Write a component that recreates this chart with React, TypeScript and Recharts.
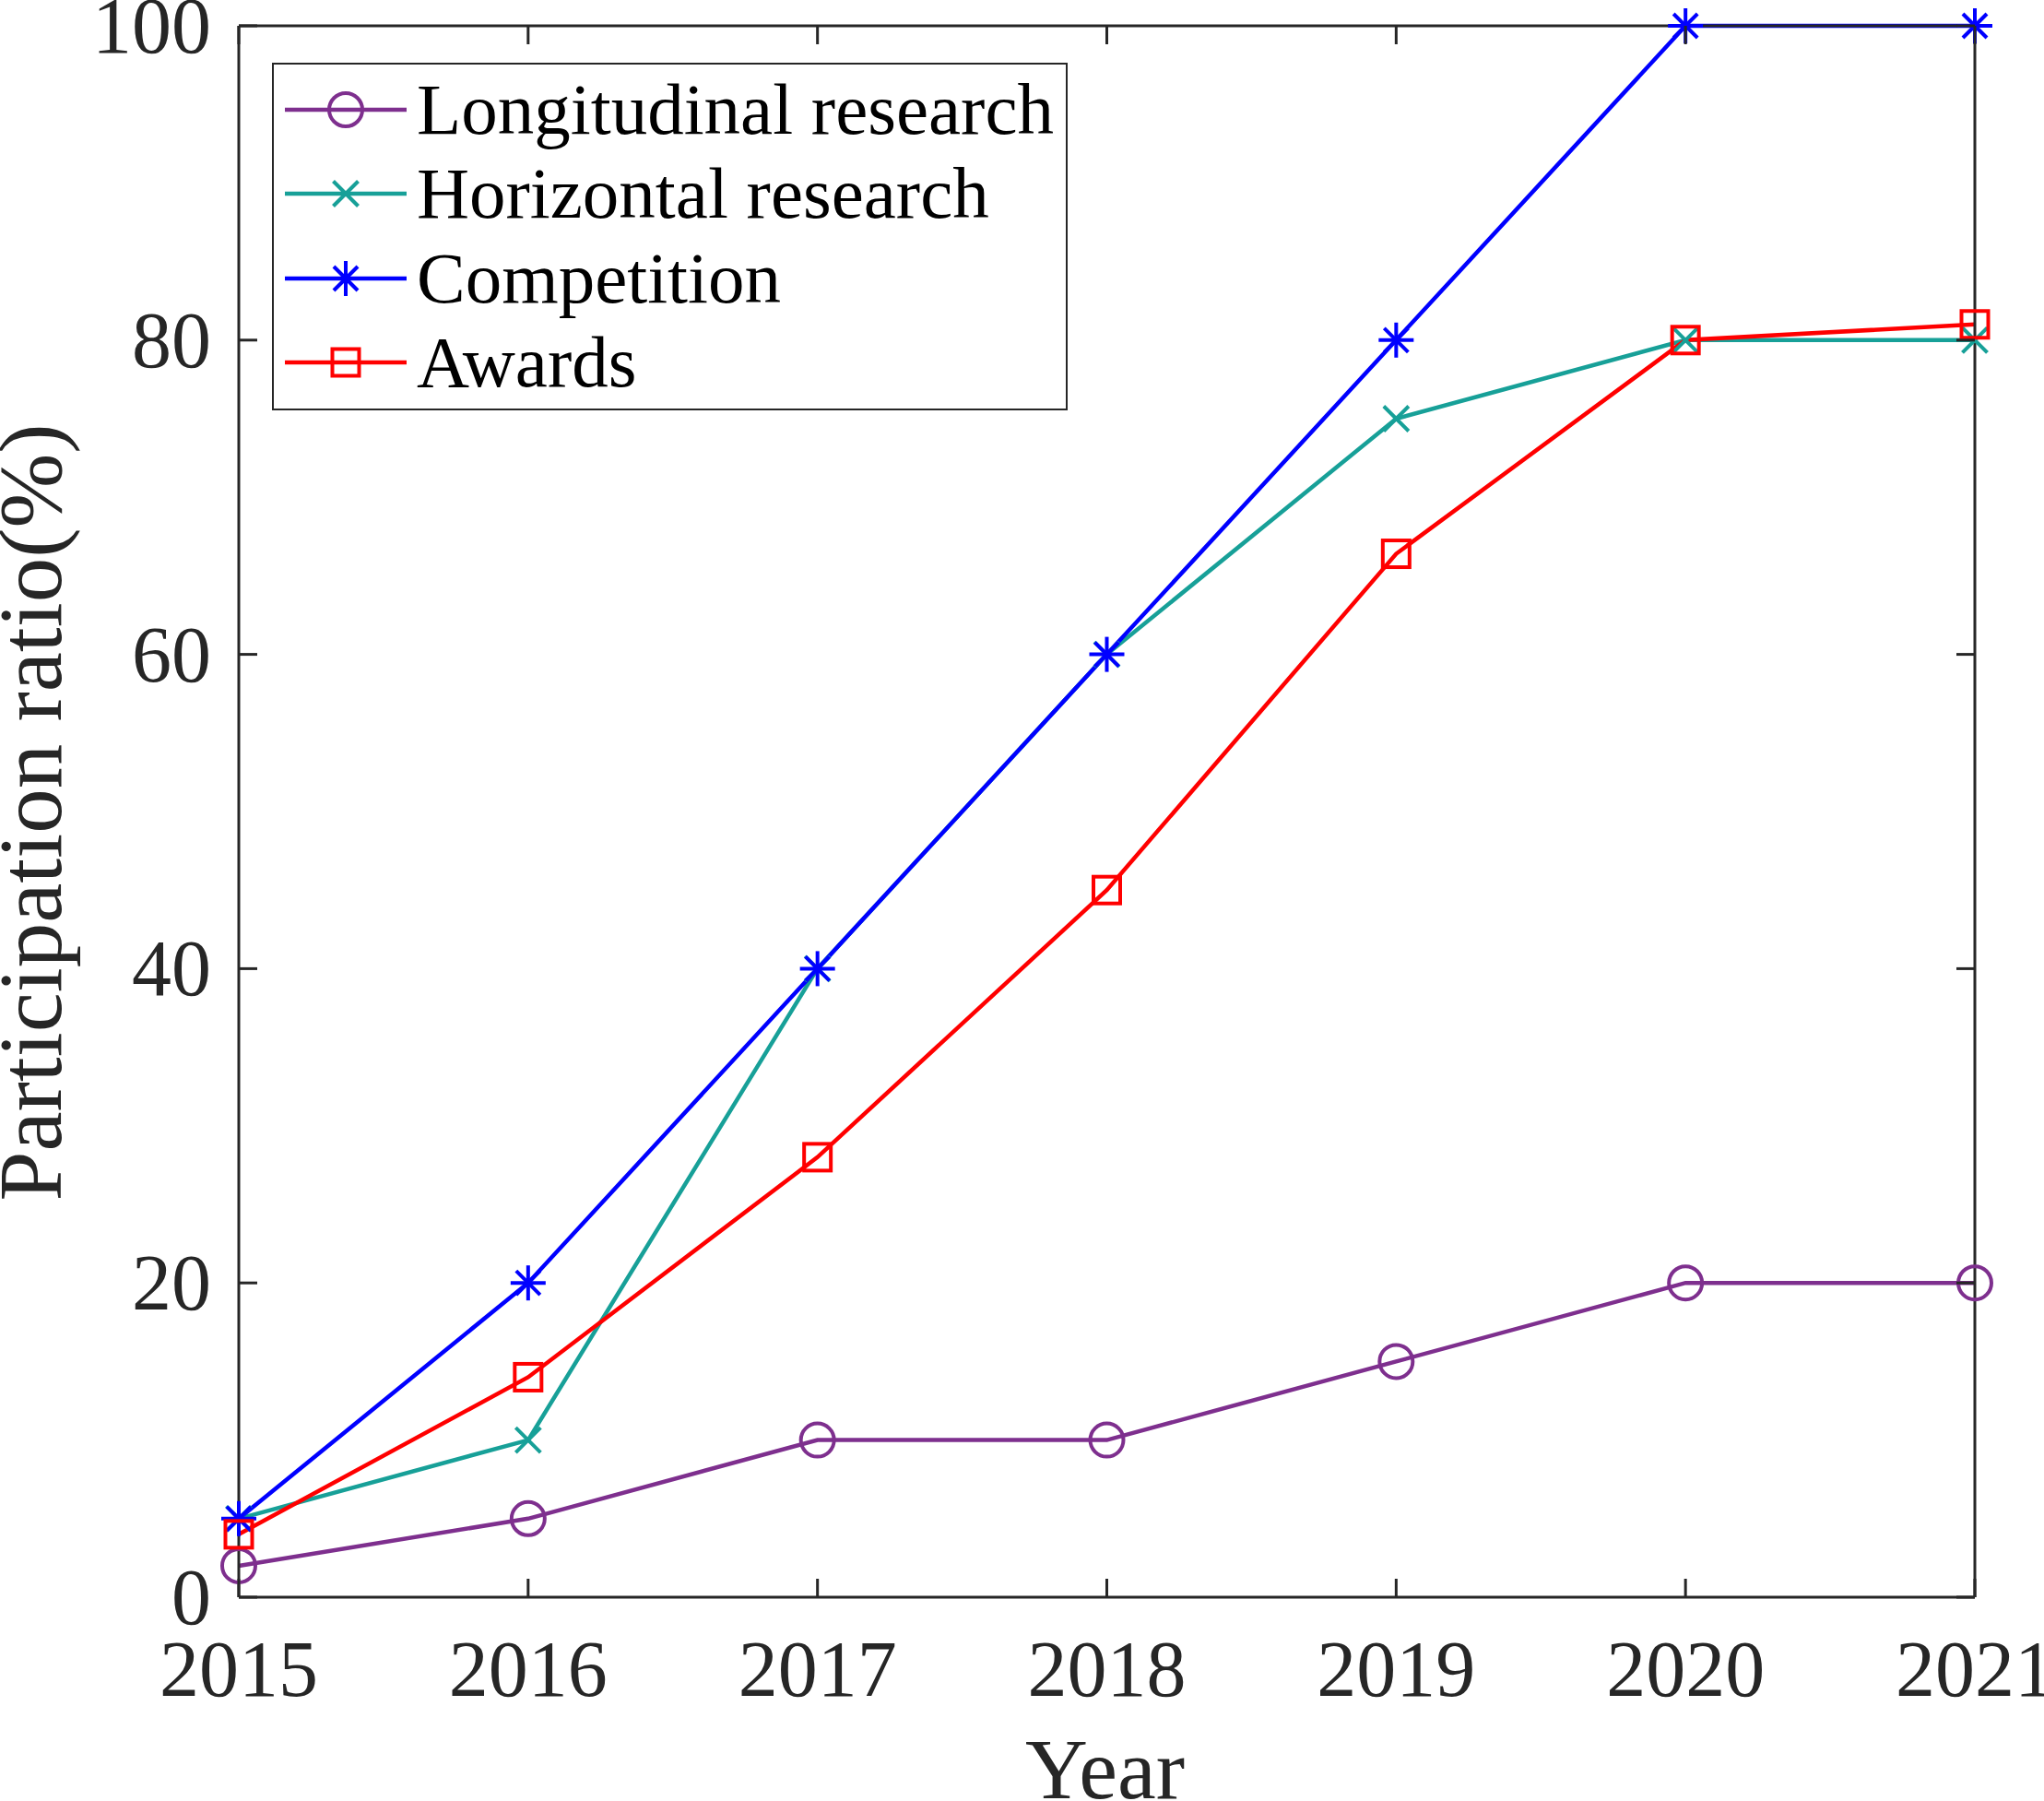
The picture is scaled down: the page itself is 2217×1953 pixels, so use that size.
import React from 'react';
import { LineChart, Line, XAxis, YAxis, Legend } from 'recharts';

const years = [2015, 2016, 2017, 2018, 2019, 2020, 2021];
const longitudinal = [2, 5, 10, 10, 15, 20, 20];
const horizontal = [5, 10, 40, 60, 75, 80, 80];
const competition = [5, 20, 40, 60, 80, 100, 100];
const awards = [4, 14, 28, 45, 66.4, 80, 81];
const yTicks = [0, 20, 40, 60, 80, 100];

const seriesInfo = [
  { key: 'longitudinal', name: 'Longitudinal research', color: '#7E2F8E', marker: 'circle' },
  { key: 'horizontal', name: 'Horizontal research', color: '#17A098', marker: 'x' },
  { key: 'competition', name: 'Competition', color: '#0000FF', marker: 'asterisk' },
  { key: 'awards', name: 'Awards', color: '#FF0000', marker: 'square' },
];

const data = years.map((year, i) => ({
  year,
  longitudinal: longitudinal[i],
  horizontal: horizontal[i],
  competition: competition[i],
  awards: awards[i],
}));

const FONT = "'Liberation Serif', 'Times New Roman', serif";
const AX = '#262626';
const TICK_FS = 86;
const TICK_LEN = 20;

function Marker({ kind, cx, cy, color }: { kind: string; cx: number; cy: number; color: string }) {
  const sw = 4;
  if (kind === 'circle') {
    return <circle cx={cx} cy={cy} r={18} fill="none" stroke={color} strokeWidth={sw} />;
  }
  if (kind === 'square') {
    const h = 14.5;
    return <rect x={cx - h} y={cy - h} width={2 * h} height={2 * h} fill="none" stroke={color} strokeWidth={sw} />;
  }
  if (kind === 'x') {
    const h = 13.5;
    return (
      <g stroke={color} strokeWidth={sw}>
        <line x1={cx - h} y1={cy - h} x2={cx + h} y2={cy + h} />
        <line x1={cx - h} y1={cy + h} x2={cx + h} y2={cy - h} />
      </g>
    );
  }
  const h = 19;
  const d = 13;
  return (
    <g stroke={color} strokeWidth={sw}>
      <line x1={cx} y1={cy - h} x2={cx} y2={cy + h} />
      <line x1={cx - h} y1={cy} x2={cx + h} y2={cy} />
      <line x1={cx - d} y1={cy - d} x2={cx + d} y2={cy + d} />
      <line x1={cx - d} y1={cy + d} x2={cx + d} y2={cy - d} />
    </g>
  );
}

const makeDot = (kind: string, color: string) => (props: any) => {
  const { cx, cy, index } = props;
  if (cx == null || cy == null) return <g key={index} />;
  return <Marker key={`${kind}-${index}`} kind={kind} cx={cx} cy={cy} color={color} />;
};

const BottomTick = (props: any) => {
  const { x, y, payload } = props;
  return (
    <g>
      <line x1={x} x2={x} y1={y} y2={y - TICK_LEN} stroke={AX} strokeWidth={3} />
      <text x={x} y={y + 107} textAnchor="middle" fontSize={TICK_FS} fontFamily={FONT} fill={AX}>
        {payload.value}
      </text>
    </g>
  );
};

const TopTick = (props: any) => {
  const { x, y } = props;
  return <line x1={x} x2={x} y1={y} y2={y + TICK_LEN} stroke={AX} strokeWidth={3} />;
};

const LeftTick = (props: any) => {
  const { x, y, payload } = props;
  return (
    <g>
      <line x1={x} x2={x + TICK_LEN} y1={y} y2={y} stroke={AX} strokeWidth={3} />
      <text x={x - 30} y={y + 29} textAnchor="end" fontSize={TICK_FS} fontFamily={FONT} fill={AX}>
        {payload.value}
      </text>
    </g>
  );
};

const RightTick = (props: any) => {
  const { x, y } = props;
  return <line x1={x} x2={x - TICK_LEN} y1={y} y2={y} stroke={AX} strokeWidth={3} />;
};

const XLabel = (props: any) => {
  const vb = props.viewBox || {};
  return (
    <text x={vb.x + vb.width / 2 - 2} y={vb.y + 218} textAnchor="middle" fontSize={94} fontFamily={FONT} fill={AX}>
      Year
    </text>
  );
};

const YLabel = (props: any) => {
  const vb = props.viewBox || {};
  const cx = 66;
  const cy = vb.y + vb.height / 2 + 1;
  return (
    <text
      x={cx}
      y={cy}
      transform={`rotate(-90, ${cx}, ${cy})`}
      textAnchor="middle"
      fontSize={97}
      fontFamily={FONT}
      fill={AX}
    >
      Participation ratio(%)
    </text>
  );
};

const LegendBox = () => (
  <div
    style={{
      boxSizing: 'border-box',
      width: 863,
      height: 377,
      border: `2.5px solid ${AX}`,
      background: '#fff',
      paddingTop: 3,
      fontFamily: FONT,
    }}
  >
    {seriesInfo.map((s) => (
      <div key={s.key} style={{ display: 'flex', alignItems: 'center', height: 91.5 }}>
        <svg width={155} height={92} style={{ flex: 'none' }}>
          <line x1={12} x2={144} y1={46} y2={46} stroke={s.color} strokeWidth={4.5} />
          <Marker kind={s.marker} cx={78} cy={46} color={s.color} />
        </svg>
        <span style={{ fontSize: 79, lineHeight: '92px', color: '#000', whiteSpace: 'nowrap' }}>{s.name}</span>
      </div>
    ))}
  </div>
);

export default function App() {
  return (
    <div style={{ position: 'absolute', left: 0, top: 0, width: 2217, height: 1953, background: '#fff' }}>
      <LineChart width={2217} height={1953} data={data} margin={{ top: 27, right: 74, left: 0, bottom: 0 }}>
        <XAxis
          dataKey="year"
          type="number"
          domain={[2015, 2021]}
          ticks={years}
          interval={0}
          height={221}
          tickSize={0}
          tickMargin={0}
          tick={<BottomTick />}
          axisLine={{ stroke: AX, strokeWidth: 3 }}
          label={<XLabel />}
        />
        <XAxis
          xAxisId="top"
          orientation="top"
          dataKey="year"
          type="number"
          domain={[2015, 2021]}
          ticks={years}
          interval={0}
          height={1}
          tickSize={0}
          tickMargin={0}
          tick={<TopTick />}
          axisLine={{ stroke: AX, strokeWidth: 3 }}
        />
        <YAxis
          type="number"
          domain={[0, 100]}
          ticks={yTicks}
          interval={0}
          width={259}
          tickSize={0}
          tickMargin={0}
          tick={<LeftTick />}
          axisLine={{ stroke: AX, strokeWidth: 3 }}
          label={<YLabel />}
        />
        <YAxis
          yAxisId="right"
          orientation="right"
          type="number"
          domain={[0, 100]}
          ticks={yTicks}
          interval={0}
          width={1}
          tickSize={0}
          tickMargin={0}
          tick={<RightTick />}
          axisLine={{ stroke: AX, strokeWidth: 3 }}
        />
        <Line
          xAxisId="top"
          yAxisId="right"
          dataKey="competition"
          stroke="transparent"
          strokeWidth={0}
          dot={false}
          activeDot={false}
          legendType="none"
          isAnimationActive={false}
        />
        {seriesInfo.map((s) => (
          <Line
            key={s.key}
            type="linear"
            dataKey={s.key}
            name={s.name}
            stroke={s.color}
            strokeWidth={4.5}
            dot={makeDot(s.marker, s.color)}
            activeDot={false}
            isAnimationActive={false}
          />
        ))}
        <Legend
          layout="vertical"
          align="center"
          verticalAlign="middle"
          content={<LegendBox />}
          wrapperStyle={{ position: 'absolute', left: 295, top: 68, width: 863, height: 377 }}
        />
      </LineChart>
    </div>
  );
}
